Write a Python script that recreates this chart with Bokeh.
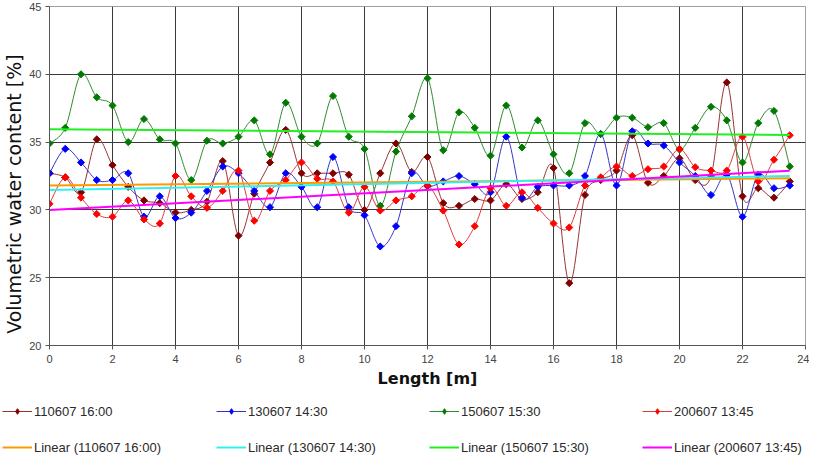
import numpy as np
from bokeh.plotting import figure
from bokeh.layouts import column
from bokeh.models import (Range1d, SingleIntervalTicker, Legend, LegendItem,
                          ColumnDataSource)
from bokeh.embed import file_html
from bokeh.resources import INLINE

# ---------------- data ----------------
length_m = [0, 0.5, 1, 1.5, 2, 2.5, 3, 3.5, 4, 4.5, 5, 5.5, 6, 6.5, 7, 7.5,
            8, 8.5, 9, 9.5, 10, 10.5, 11, 11.5, 12, 12.5, 13, 13.5, 14, 14.5,
            15, 15.5, 16, 16.5, 17, 17.5, 18, 18.5, 19, 19.5, 20, 20.5, 21,
            21.5, 22, 22.5, 23, 23.5]

s110607 = [32.7, 32.4, 31.3, 35.2, 33.3, 31.7, 30.7, 30.5, 29.8, 30.0, 30.6,
           33.6, 28.1, 31.2, 33.5, 35.9, 32.7, 32.7, 32.7, 32.6, 30.0, 32.7,
           34.9, 32.8, 33.9, 30.5, 30.3, 30.8, 30.7, 31.9, 30.8, 31.3, 33.1,
           24.6, 31.1, 32.2, 32.9, 35.5, 32.0, 32.5, 33.8, 32.2, 32.5, 39.4,
           31.0, 31.6, 30.9, 32.1]

s130607 = [32.7, 34.5, 33.5, 32.2, 32.2, 32.7, 29.5, 31.0, 29.4, 29.8, 31.4,
           33.2, 32.7, 31.4, 30.2, 32.7, 31.7, 30.2, 33.9, 30.2, 29.6, 27.3,
           28.8, 32.7, 31.75, 32.1, 32.5, 31.9, 31.3, 35.4, 30.9, 31.7, 31.8,
           31.8, 32.5, 35.6, 31.8, 35.8, 34.9, 34.75, 33.5, 32.5, 31.1, 32.6,
           29.5, 32.6, 31.6, 31.8]

s150607 = [34.9, 36.05, 40.0, 38.3, 37.7, 35.0, 36.7, 35.2, 34.9, 32.2, 35.1,
           34.9, 35.4, 36.6, 34.1, 37.9, 35.4, 34.9, 38.4, 35.4, 34.5, 30.3,
           34.3, 36.9, 39.7, 34.4, 37.2, 36.05, 34.0, 37.7, 34.6, 36.6, 34.1,
           32.7, 36.4, 35.6, 36.8, 36.8, 36.1, 36.4, 34.45, 36.05, 37.6, 36.6,
           33.5, 36.4, 37.3, 33.2]

s200607 = [30.45, 32.4, 30.9, 29.7, 29.5, 30.7, 29.3, 29.0, 32.5, 31.0, 30.15,
           31.4, 32.9, 29.2, 31.4, 32.2, 33.5, 32.3, 32.1, 29.8, 31.7, 29.95,
           30.7, 31.0, 31.8, 29.95, 27.45, 28.8, 31.6, 30.3, 31.3, 30.15, 29.0,
           28.7, 31.8, 32.4, 33.2, 32.5, 33.0, 33.2, 34.5, 33.15, 32.9, 32.9,
           35.4, 32.1, 33.7, 35.5]

series_names = ["110607 16:00", "130607 14:30", "150607 15:30", "200607 13:45"]
x_ticks_interval = 2
y_ticks_interval = 5

# ---------------- styling ----------------
series_vals = [s110607, s130607, s150607, s200607]
marker_colors = ["#800000", "#0000ff", "#007a00", "#ff0000"]
line_colors = ["#9a3030", "#3333cc", "#2e8b2e", "#e03a3a"]
trend_colors = ["#ff9900", "#33f0f0", "#22ee22", "#ff00ff"]

FONT = "Liberation Sans"
W = 809

p = figure(width=W, height=390, x_range=Range1d(0, 24), y_range=Range1d(20, 45),
           output_backend="svg", toolbar_location=None,
           min_border_left=47, min_border_right=4, min_border_top=6,
           min_border_bottom=42, background_fill_color="white",
           border_fill_color="white", outline_line_color="#a0a0a0")
p.frame_align = False

p.xaxis.ticker = SingleIntervalTicker(interval=x_ticks_interval, num_minor_ticks=0)
p.yaxis.ticker = SingleIntervalTicker(interval=y_ticks_interval, num_minor_ticks=0)
for ax in (p.xaxis, p.yaxis):
    ax.axis_line_color = "#555555"
    ax.major_tick_line_color = "#555555"
    ax.major_tick_out = 4
    ax.major_tick_in = 0
    ax.minor_tick_line_color = None
    ax.major_label_text_font = FONT
    ax.major_label_text_font_size = "11px"
    ax.major_label_text_color = "#444444"
    ax.major_label_standoff = 4
    ax.axis_label_text_font = "DejaVu Sans"
    ax.axis_label_text_color = "#111111"

p.xaxis.major_label_standoff = 5
p.xaxis.axis_label = "Length [m]"
p.xaxis.axis_label_text_font_size = "16px"
p.xaxis.axis_label_text_font_style = "bold"
p.xaxis.axis_label_standoff = 3
# trailing no-break spaces push the rotated title a little lower, as in the original
p.yaxis.axis_label = "Volumetric water content [%]" + "\u00a0" * 6
p.yaxis.axis_label_text_font_size = "19px"
p.yaxis.axis_label_text_font_style = "normal"
p.yaxis.axis_label_standoff = 1

p.xgrid.grid_line_color = "#3a3a3a"
p.ygrid.grid_line_color = "#3a3a3a"
p.xgrid.grid_line_width = 1
p.ygrid.grid_line_width = 1


def smooth_segments(xs, ys):
    """Cubic Bezier control points (Catmull-Rom style) through the data points."""
    xs = np.asarray(xs, float)
    ys = np.asarray(ys, float)
    n = len(xs)
    xp = np.concatenate([[xs[0]], xs, [xs[-1]]])
    yp = np.concatenate([[ys[0]], ys, [ys[-1]]])
    i = np.arange(n - 1)
    return dict(
        x0=xs[:-1], y0=ys[:-1], x1=xs[1:], y1=ys[1:],
        cx0=xp[i + 1] + (xp[i + 2] - xp[i]) / 6.0,
        cy0=yp[i + 1] + (yp[i + 2] - yp[i]) / 6.0,
        cx1=xp[i + 2] - (xp[i + 3] - xp[i + 1]) / 6.0,
        cy1=yp[i + 2] - (yp[i + 3] - yp[i + 1]) / 6.0,
    )


def draw_series(fig, vals, mc, lc, marker="square", angle=np.pi / 4, size=5):
    src = ColumnDataSource(smooth_segments(length_m, vals))
    br = fig.bezier(x0="x0", y0="y0", x1="x1", y1="y1", cx0="cx0", cy0="cy0",
                    cx1="cx1", cy1="cy1", source=src, line_color=lc, line_width=1)
    sr = fig.scatter(length_m, vals, marker=marker, angle=angle, size=size,
                     fill_color=mc, line_color=mc)
    return [br, sr]


def draw_trend(fig, vals, tc):
    slope, icpt = np.polyfit(np.asarray(length_m, float), np.asarray(vals, float), 1)
    xe = [length_m[0], length_m[-1]]
    ye = [icpt + slope * xe[0], icpt + slope * xe[1]]
    return fig.line(xe, ye, line_color=tc, line_width=2)


for vals, mc, lc in zip(series_vals, marker_colors, line_colors):
    draw_series(p, vals, mc, lc)
for vals, tc in zip(series_vals, trend_colors):
    draw_trend(p, vals, tc)

# ---------------- legend strip (separate figure below the chart) ----------------
# its ranges keep the (identical) renderers out of view; they only feed the legend
leg = figure(width=W, height=67, x_range=Range1d(-3, -2), y_range=Range1d(0, 1),
             output_backend="svg", toolbar_location=None,
             x_axis_location=None, y_axis_location=None,
             min_border=0, outline_line_color=None,
             background_fill_color="white", border_fill_color="white")
leg.frame_align = False
leg.grid.visible = False

col_x = [2, 216, 429, 642]
for k in range(4):
    s_r = draw_series(leg, series_vals[k], marker_colors[k], line_colors[k],
                      marker="diamond", angle=0, size=7)
    t_r = draw_trend(leg, series_vals[k], trend_colors[k])
    items = [LegendItem(label=series_names[k], renderers=s_r),
             LegendItem(label="Linear (" + series_names[k] + ")", renderers=[t_r])]
    lg = Legend(items=items, location=(col_x[k], 0), orientation="vertical",
                glyph_width=30, glyph_height=14, label_height=20,
                label_standoff=2, spacing=16, padding=0, margin=0,
                border_line_alpha=0, background_fill_alpha=0,
                label_text_font=FONT, label_text_font_size="13px",
                label_text_color="#2a2a2a")
    leg.add_layout(lg, "center")

layout = column(p, leg, spacing=0)
open("out.html", "w").write(file_html(layout, INLINE))
